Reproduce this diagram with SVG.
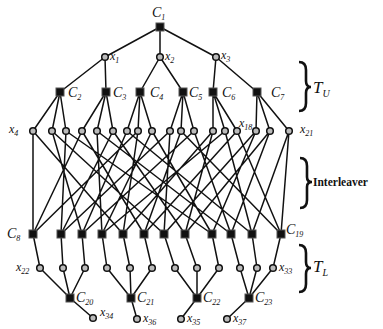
<svg xmlns="http://www.w3.org/2000/svg" width="383" height="329" viewBox="0 0 383 329">
<style>
.e{stroke:#111;stroke-width:1.5;fill:none}
.c{fill:#111;stroke:#555;stroke-width:1}
.v{fill:#bbb;stroke:#111;stroke-width:1.5}
.t{font-family:"Liberation Serif",serif;font-style:italic;fill:#111}
.lc{font-size:14px}
.lx{font-size:12px}
.s{font-size:8px}
.b{stroke:#111;stroke-width:2.6;fill:none}
</style>
<defs>
<rect id="sq" x="-4" y="-4" width="8" height="8" class="c"/>
<circle id="ci" r="3.3" class="v"/>
</defs>
<rect width="383" height="329" fill="#fff"/>
<g id="connectors" class="e">
<path d="M160,27L105,57M160,27L160,57M160,27L216,57"/>
<path d="M105,57L60,92M105,57L106,92M160,57L140,92M160,57L183,92M216,57L213,92M216,57L257,92"/>
<path d="M60,92L33,131M60,92L52,131M60,92L66,131M106,92L82,131M106,92L97,131M106,92L113,131M140,92L127,131M140,92L138,131M140,92L152,131M183,92L170,131M183,92L181,131M183,92L194,131M213,92L213,131M213,92L225,131M213,92L237,131M257,92L256,131M257,92L270,131M257,92L289,131"/>
<path d="M33,131L33,234M33,131L123,234M52,131L82,234M52,131L164,234M66,131L61,234M66,131L212,234M82,131L33,234M82,131L144,234M97,131L102,234M97,131L231,234M113,131L61,234M113,131L185,234M127,131L82,234M127,131L252,234M138,131L123,234M138,131L33,234M152,131L102,234M152,131L212,234M170,131L61,234M170,131L164,234M181,131L144,234M181,131L281,234M194,131L82,234M194,131L231,234M213,131L123,234M213,131L185,234M225,131L102,234M225,131L252,234M237,131L144,234M237,131L281,234M256,131L164,234M256,131L212,234M270,131L185,234M270,131L231,234M289,131L252,234M289,131L281,234"/>
<path d="M33,234L40,268M61,234L63,268M82,234L85,268M102,234L107,268M123,234L130,268M144,234L152,268M164,234L175,268M185,234L197,268M212,234L219,268M231,234L240,268M252,234L257,268M281,234L273,268"/>
<path d="M40,268L70,298M63,268L70,298M85,268L70,298M107,268L131,298M130,268L131,298M152,268L131,298M175,268L197,298M197,268L197,298M219,268L197,298M240,268L249,298M257,268L249,298M273,268L249,298"/>
<path d="M70,298L93,318M131,298L137,319M197,298L181,319M249,298L227,319"/>
</g>
<g id="C1"><use href="#sq" x="160" y="27"/><text class="t lc" x="152" y="17">C<tspan class="s" dy="3">1</tspan></text></g>
<g id="x1"><use href="#ci" x="105" y="57"/><text class="t lx" x="110" y="60">x<tspan class="s" dy="3">1</tspan></text></g>
<g id="x2"><use href="#ci" x="160" y="57"/><text class="t lx" x="165" y="60">x<tspan class="s" dy="3">2</tspan></text></g>
<g id="x3"><use href="#ci" x="216" y="57"/><text class="t lx" x="221" y="59">x<tspan class="s" dy="3">3</tspan></text></g>
<g id="C2"><use href="#sq" x="60" y="92"/><text class="t lc" x="68" y="97">C<tspan class="s" dy="3">2</tspan></text></g>
<g id="C3"><use href="#sq" x="106" y="92"/><text class="t lc" x="113" y="97">C<tspan class="s" dy="3">3</tspan></text></g>
<g id="C4"><use href="#sq" x="140" y="92"/><text class="t lc" x="150" y="97">C<tspan class="s" dy="3">4</tspan></text></g>
<g id="C5"><use href="#sq" x="183" y="92"/><text class="t lc" x="189" y="97">C<tspan class="s" dy="3">5</tspan></text></g>
<g id="C6"><use href="#sq" x="213" y="92"/><text class="t lc" x="222" y="97">C<tspan class="s" dy="3">6</tspan></text></g>
<g id="C7"><use href="#sq" x="257" y="92"/><text class="t lc" x="271" y="97">C<tspan class="s" dy="3">7</tspan></text></g>
<g id="x4"><use href="#ci" x="33" y="131"/><text class="t lx" x="9" y="133">x<tspan class="s" dy="3">4</tspan></text></g>
<g id="x5"><use href="#ci" x="52" y="131"/></g>
<g id="x6"><use href="#ci" x="66" y="131"/></g>
<g id="x7"><use href="#ci" x="82" y="131"/></g>
<g id="x8"><use href="#ci" x="97" y="131"/></g>
<g id="x9"><use href="#ci" x="113" y="131"/></g>
<g id="x10"><use href="#ci" x="127" y="131"/></g>
<g id="x11"><use href="#ci" x="138" y="131"/></g>
<g id="x12"><use href="#ci" x="152" y="131"/></g>
<g id="x13"><use href="#ci" x="170" y="131"/></g>
<g id="x14"><use href="#ci" x="181" y="131"/></g>
<g id="x15"><use href="#ci" x="194" y="131"/></g>
<g id="x16"><use href="#ci" x="213" y="131"/></g>
<g id="x17"><use href="#ci" x="225" y="131"/></g>
<g id="x18"><use href="#ci" x="237" y="131"/><text class="t lx" x="239" y="127">x<tspan class="s" dy="3">18</tspan></text></g>
<g id="x19"><use href="#ci" x="256" y="131"/></g>
<g id="x20"><use href="#ci" x="270" y="131"/></g>
<g id="x21"><use href="#ci" x="289" y="131"/><text class="t lx" x="300" y="133">x<tspan class="s" dy="3">21</tspan></text></g>
<g id="C8"><use href="#sq" x="33" y="234"/><text class="t lc" x="7" y="238">C<tspan class="s" dy="3">8</tspan></text></g>
<g id="C9"><use href="#sq" x="61" y="234"/></g>
<g id="C10"><use href="#sq" x="82" y="234"/></g>
<g id="C11"><use href="#sq" x="102" y="234"/></g>
<g id="C12"><use href="#sq" x="123" y="234"/></g>
<g id="C13"><use href="#sq" x="144" y="234"/></g>
<g id="C14"><use href="#sq" x="164" y="234"/></g>
<g id="C15"><use href="#sq" x="185" y="234"/></g>
<g id="C16"><use href="#sq" x="212" y="234"/></g>
<g id="C17"><use href="#sq" x="231" y="234"/></g>
<g id="C18"><use href="#sq" x="252" y="234"/></g>
<g id="C19"><use href="#sq" x="281" y="234"/><text class="t lc" x="286" y="234">C<tspan class="s" dy="3">19</tspan></text></g>
<g id="x22"><use href="#ci" x="40" y="268"/><text class="t lx" x="16" y="271">x<tspan class="s" dy="3">22</tspan></text></g>
<g id="x23"><use href="#ci" x="63" y="268"/></g>
<g id="x24"><use href="#ci" x="85" y="268"/></g>
<g id="x25"><use href="#ci" x="107" y="268"/></g>
<g id="x26"><use href="#ci" x="130" y="268"/></g>
<g id="x27"><use href="#ci" x="152" y="268"/></g>
<g id="x28"><use href="#ci" x="175" y="268"/></g>
<g id="x29"><use href="#ci" x="197" y="268"/></g>
<g id="x30"><use href="#ci" x="219" y="268"/></g>
<g id="x31"><use href="#ci" x="240" y="268"/></g>
<g id="x32"><use href="#ci" x="257" y="268"/></g>
<g id="x33"><use href="#ci" x="273" y="268"/><text class="t lx" x="279" y="271">x<tspan class="s" dy="3">33</tspan></text></g>
<g id="C20"><use href="#sq" x="70" y="298"/><text class="t lc" x="76" y="302">C<tspan class="s" dy="3">20</tspan></text></g>
<g id="C21"><use href="#sq" x="131" y="298"/><text class="t lc" x="137" y="302">C<tspan class="s" dy="3">21</tspan></text></g>
<g id="C22"><use href="#sq" x="197" y="298"/><text class="t lc" x="203" y="302">C<tspan class="s" dy="3">22</tspan></text></g>
<g id="C23"><use href="#sq" x="249" y="298"/><text class="t lc" x="255" y="302">C<tspan class="s" dy="3">23</tspan></text></g>
<g id="x34"><use href="#ci" x="93" y="318"/><text class="t lx" x="100" y="316">x<tspan class="s" dy="3">34</tspan></text></g>
<g id="x36"><use href="#ci" x="137" y="319"/><text class="t lx" x="143" y="322">x<tspan class="s" dy="3">36</tspan></text></g>
<g id="x35"><use href="#ci" x="181" y="319"/><text class="t lx" x="187" y="322">x<tspan class="s" dy="3">35</tspan></text></g>
<g id="x37"><use href="#ci" x="227" y="319"/><text class="t lx" x="233" y="322">x<tspan class="s" dy="3">37</tspan></text></g>
<g id="TU">
<path class="b" d="M299,62Q306,62 306,70L306,81Q306,87 311,87Q306,87 306,93L306,103Q306,111 299,111"/>
<text class="t" font-size="17" x="313" y="93">T<tspan font-size="10" dy="4">U</tspan></text>
</g>
<g id="Interleaver">
<path class="b" d="M300,158Q307,158 307,166L307,177Q307,182 312,182Q307,182 307,187L307,200Q307,208 300,208"/>
<text font-family="Liberation Serif,serif" font-weight="bold" font-size="11.5" fill="#111" x="313" y="186">Interleaver</text>
</g>
<g id="TL">
<path class="b" d="M299,245Q306,245 306,253L306,262Q306,268 311,268Q306,268 306,274L306,284Q306,292 299,292"/>
<text class="t" font-size="17" x="313" y="272">T<tspan font-size="10" dy="4">L</tspan></text>
</g>
</svg>
